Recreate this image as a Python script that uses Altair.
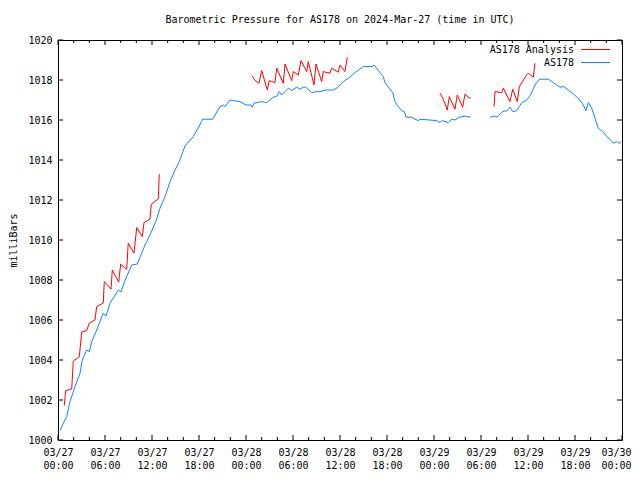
import altair as alt
import pandas as pd

BASE = pd.Timestamp("2024-03-27T00:00:00Z")
BASE_MS = int(BASE.value // 10**6)
H_MS = 3600000

# AS178 observed (hours since 2024-03-27 00:00 UTC, millibars)
as178_a_hours = [0.26, 0.68, 1.11, 1.53, 2.17, 2.81, 3.10, 3.66, 4.00, 4.30, 4.94, 5.78, 6.13, 6.64,
                 7.70, 8.04, 8.55, 9.41, 10.12, 11.11, 11.74, 12.60, 13.02, 13.66, 14.30, 14.94,
                 15.49, 16.21, 17.27, 18.34, 18.42, 19.75, 20.68, 21.10, 21.32, 21.96, 22.38, 23.23,
                 24.00, 24.64, 24.80, 25.02, 26.00, 26.64, 27.48, 27.92, 28.25, 28.56, 28.98, 29.40,
                 29.83, 30.47, 30.89, 31.31, 31.62, 32.39, 33.03, 33.45, 34.09, 35.14, 35.78, 36.42,
                 37.28, 37.91, 38.97, 40.17, 40.34, 40.89, 41.53, 41.74, 42.29, 42.73, 43.02, 43.44,
                 43.88, 44.21, 44.43, 45.15, 45.57, 46.00, 46.21, 48.34, 48.77, 49.02, 49.83, 50.26,
                 50.68, 51.23, 51.96, 52.21, 52.68]
as178_a_mb = [1000.47, 1000.84, 1001.17, 1001.92, 1002.67, 1003.34, 1004.00, 1004.50, 1004.42, 1004.92,
              1005.50, 1006.34, 1006.20, 1006.84, 1007.50, 1007.40, 1007.97, 1008.75, 1008.80, 1009.75,
              1010.25, 1011.04, 1011.59, 1012.17, 1012.92, 1013.50, 1013.92, 1014.70, 1015.17, 1015.92,
              1016.04, 1016.04, 1016.67, 1016.75, 1016.67, 1017.00, 1016.97, 1016.92, 1016.75, 1016.75,
              1016.64, 1016.84, 1016.92, 1016.87, 1017.14, 1017.17, 1017.42, 1017.25, 1017.42, 1017.59,
              1017.47, 1017.64, 1017.54, 1017.64, 1017.64, 1017.37, 1017.42, 1017.42, 1017.50, 1017.50,
              1017.64, 1017.92, 1018.14, 1018.37, 1018.67, 1018.67, 1018.75, 1018.47, 1018.17, 1017.87,
              1017.59, 1017.37, 1016.92, 1016.67, 1016.47, 1016.42, 1016.14, 1016.14, 1016.04, 1015.97,
              1016.04, 1015.97, 1015.87, 1015.97, 1015.87, 1016.04, 1016.00, 1016.14, 1016.20, 1016.17,
              1016.14]
as178_b_hours = [55.15, 55.79, 56.04, 56.77, 57.36, 57.70, 58.05, 58.56, 58.89, 59.20, 59.74, 60.26,
                 60.89, 61.44, 62.59, 63.23, 64.09, 64.60, 65.14, 65.78, 66.55, 67.06, 67.40, 67.70,
                 68.13, 68.55, 68.97, 69.54, 70.05, 70.56, 70.89, 71.32, 71.65, 71.87]
as178_b_mb = [1016.14, 1016.20, 1016.14, 1016.42, 1016.47, 1016.64, 1016.42, 1016.47, 1016.67, 1016.87,
              1016.97, 1017.20, 1017.75, 1018.04, 1018.04, 1017.87, 1017.64, 1017.67, 1017.50, 1017.30,
              1017.04, 1016.75, 1016.47, 1016.87, 1016.59, 1016.09, 1015.59, 1015.42, 1015.17, 1015.00,
              1014.84, 1014.92, 1014.84, 1014.90]

# AS178 Analysis
ana_a_hours = [0.80, 0.98, 1.75, 1.95, 2.72, 3.03, 3.66, 4.00, 4.72, 4.94, 5.78, 5.91, 6.77, 6.93,
               7.75, 8.00, 8.77, 8.97, 9.70, 10.05, 10.76, 10.98, 11.74, 11.91, 12.80, 12.93]
ana_a_mb = [1001.72, 1002.47, 1002.55, 1003.95, 1004.17, 1005.40, 1005.47, 1005.85, 1006.00, 1006.67,
            1006.85, 1007.92, 1007.55, 1008.50, 1007.90, 1008.79, 1008.54, 1009.84, 1009.34, 1010.62,
            1010.17, 1010.87, 1011.04, 1011.79, 1012.05, 1013.29]
ana_b_hours = [24.80, 25.15, 25.66, 26.00, 26.72, 26.97, 27.70, 27.92, 28.76, 28.98, 29.83, 30.04,
               30.68, 31.02, 31.75, 31.95, 32.68, 32.94, 33.66, 33.87, 34.72, 34.94, 35.78, 36.00,
               36.64, 36.93]
ana_b_mb = [1018.20, 1017.97, 1017.84, 1018.47, 1017.50, 1017.97, 1017.87, 1018.59, 1017.84, 1018.80,
            1017.97, 1018.42, 1018.25, 1018.97, 1018.42, 1018.92, 1017.75, 1018.80, 1017.92, 1018.42,
            1018.34, 1018.59, 1018.39, 1018.75, 1018.42, 1019.14]
ana_c_hours = [48.77, 49.19, 49.70, 49.95, 50.68, 50.97, 51.66, 51.96, 52.38, 52.68]
ana_c_mb = [1017.34, 1017.04, 1016.50, 1017.17, 1016.54, 1017.25, 1016.64, 1017.30, 1017.14, 1017.09]
ana_d_hours = [55.66, 55.79, 56.64, 56.85, 57.70, 58.05, 58.64, 58.89, 59.83, 60.04, 60.68, 60.89]
ana_d_mb = [1016.67, 1017.42, 1017.37, 1017.59, 1016.92, 1017.54, 1016.92, 1017.67, 1018.25, 1018.34,
            1018.14, 1018.84]

x_label_hours = [0, 6, 12, 18, 24, 30, 36, 42, 48, 54, 60, 66, 72]
x_tick_hours = list(range(0, 73, 2))
y_ticks = [1000, 1002, 1004, 1006, 1008, 1010, 1012, 1014, 1016, 1018, 1020]

RED = "#ff0000"
BLUE = "#0a84ff"
FONT = "DejaVu Sans Mono"
END_MS = BASE_MS + 72 * H_MS


def iso(h):
    return (BASE + pd.to_timedelta(h, unit="h")).strftime("%Y-%m-%dT%H:%M:%SZ")


def frame(segments):
    rows = []
    for seg, (hs, ps) in enumerate(segments):
        for h, p in zip(hs, ps):
            rows.append({"t": iso(h), "p": p, "seg": seg})
    return pd.DataFrame(rows)


obs_df = frame([(as178_a_hours, as178_a_mb), (as178_b_hours, as178_b_mb)])
ana_df = frame([(ana_a_hours, ana_a_mb), (ana_b_hours, ana_b_mb),
                (ana_c_hours, ana_c_mb), (ana_d_hours, ana_d_mb)])
xt_df = pd.DataFrame({"t": [iso(h) for h in x_tick_hours],
                      "major": [h % 6 == 0 for h in x_tick_hours]})
yt_df = pd.DataFrame({"p": y_ticks})

x_scale = alt.Scale(type="utc", domain=[BASE_MS, END_MS], nice=False)
y_scale = alt.Scale(domain=[1000, 1020], nice=False, zero=False)

x_axis = alt.Axis(values=[BASE_MS + h * H_MS for h in x_label_hours],
                  labelExpr="[utcFormat(datum.value, '%m/%d'), utcFormat(datum.value, '%H:%M')]",
                  title=None, labelPadding=7, labelLineHeight=13, labelOverlap=False,
                  labelFlush=False, labelBound=False,
                  labelOffset={"condition": {"test": f"datum.value >= {END_MS}", "value": -6},
                               "value": 0})
y_axis = alt.Axis(values=y_ticks, format="d", title="milliBars", labelPadding=6,
                  titleX=-45, titleY=200, titleAngle=270, titleAlign="center",
                  titleBaseline="middle")

X = alt.X("t:T", scale=x_scale, axis=x_axis)
Y = alt.Y("p:Q", scale=y_scale, axis=y_axis)

obs = alt.Chart(obs_df).mark_line(color=BLUE, strokeWidth=1).encode(
    x=X, y=Y, detail="seg:N",
)
ana = alt.Chart(ana_df).mark_line(color=RED, strokeWidth=1).encode(
    x=X, y=Y, detail="seg:N",
)

def xticks(major, top):
    length = 5 if major else 3
    y0 = 0 if top else 400
    y1 = y0 + length if top else y0 - length
    return alt.Chart(xt_df).transform_filter(
        alt.datum.major if major else ~alt.datum.major
    ).mark_rule(color="black", strokeWidth=1).encode(
        x=X, y=alt.value(y0), y2=alt.value(y1),
    )

def yticks(right):
    x0 = 564 if right else 0
    x1 = x0 - 5 if right else 5
    return alt.Chart(yt_df).mark_rule(color="black", strokeWidth=1).encode(
        y=Y, x=alt.value(x0), x2=alt.value(x1),
    )

legend_items = [("AS178 Analysis", RED, 9.5), ("AS178", BLUE, 22.5)]
legend_layers = []
for name, col, yy in legend_items:
    d = pd.DataFrame({"label": [name]})
    legend_layers.append(
        alt.Chart(d).mark_text(align="right", baseline="middle", font=FONT, fontSize=10,
                               color="black").encode(
            text="label:N", x=alt.value(516), y=alt.value(yy)))
    legend_layers.append(
        alt.Chart(d).mark_rule(color=col, strokeWidth=1).encode(
            x=alt.value(523), x2=alt.value(552), y=alt.value(yy)))

chart = alt.layer(
    obs, ana,
    xticks(True, False), xticks(False, False), xticks(True, True), xticks(False, True),
    yticks(False), yticks(True),
    *legend_layers,
).properties(
    width=564, height=400,
    title=alt.TitleParams("Barometric Pressure for AS178 on 2024-Mar-27 (time in UTC)",
                          font=FONT, fontSize=10, fontWeight="normal", color="black",
                          anchor="middle", offset=10),
    autosize=alt.AutoSizeParams(type="none"),
    padding={"left": 50, "top": 32, "right": 10, "bottom": 30},
    background="white",
).configure_view(
    stroke="black", strokeWidth=1,
).configure_axis(
    grid=False, domain=False, tickSize=0,
    labelFont=FONT, labelFontSize=10, labelColor="black",
    titleFont=FONT, titleFontSize=10, titleFontWeight="normal", titleColor="black",
)

chart.save("out.html", embed_options={"renderer": "svg", "actions": False})
